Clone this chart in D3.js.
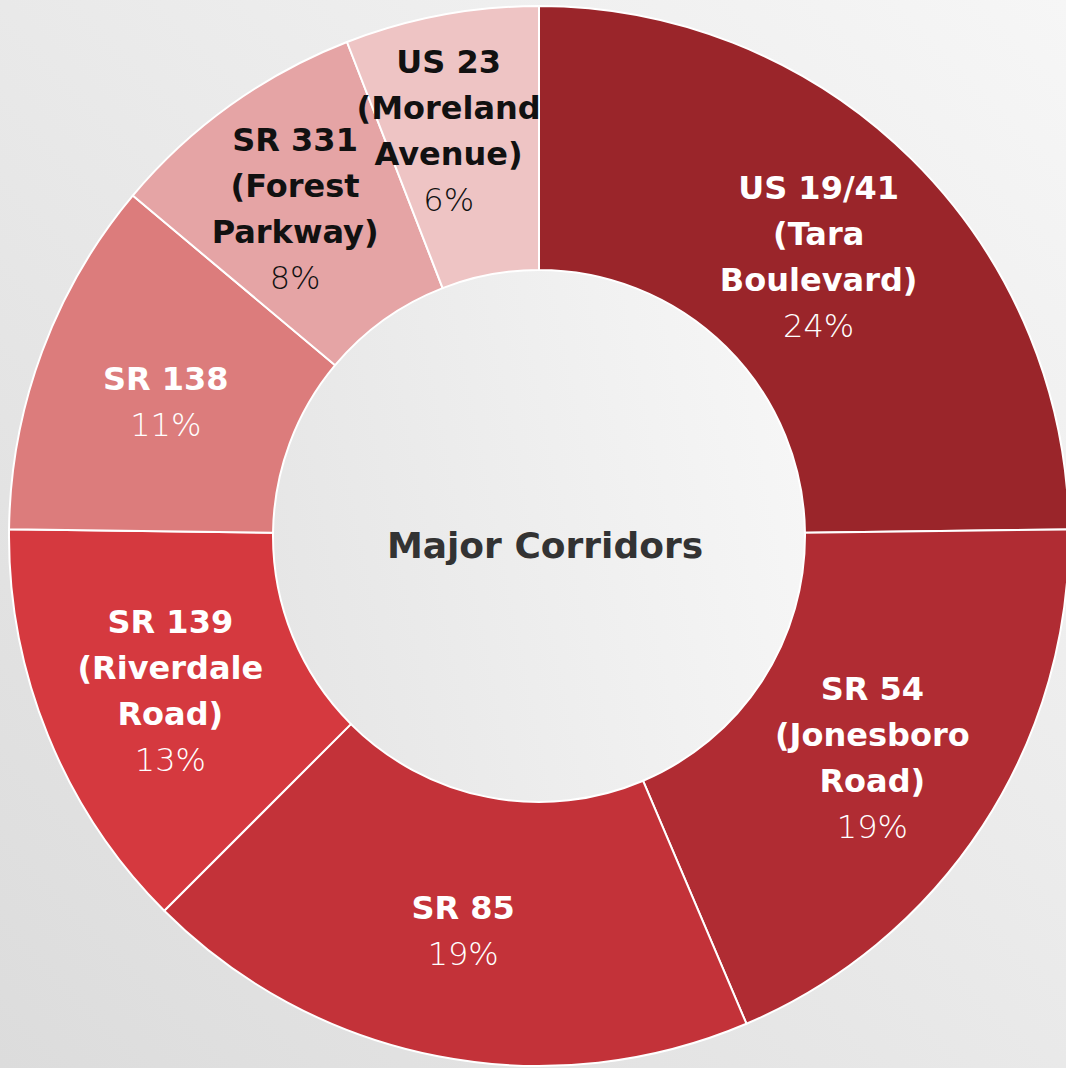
<!DOCTYPE html>
<html>
<head>
<meta charset="utf-8">
<script src="https://cdn.jsdelivr.net/npm/d3@7"></script>
<style>
  html, body { margin: 0; padding: 0; overflow: hidden; }
  svg { display: block; }
</style>
</head>
<body>
<svg id="chart" width="1066" height="1068"></svg>
<script>
// ---- data ----
const categories = ["US 19/41", "SR 54", "SR 85", "SR 139", "SR 138", "SR 331", "US 23"];
const nameLines = [
  ["US 19/41", "(Tara", "Boulevard)"],
  ["SR 54", "(Jonesboro", "Road)"],
  ["SR 85"],
  ["SR 139", "(Riverdale", "Road)"],
  ["SR 138"],
  ["SR 331", "(Forest", "Parkway)"],
  ["US 23", "(Moreland", "Avenue)"]
];
const shares = [24.8, 18.8, 18.9, 12.7, 10.9, 8.0, 5.9];
const percentLabels = ["24%", "19%", "19%", "13%", "11%", "8%", "6%"];
const colors = ["#9A252A", "#B02C33", "#C33239", "#D5393F", "#DC7C7C", "#E5A4A5", "#EEC4C4"];
const textColors = ["#ffffff", "#ffffff", "#ffffff", "#ffffff", "#ffffff", "#111111", "#111111"];
const centerTitle = "Major Corridors";

// ---- layout ----
const W = 1066, H = 1068;
const cx = 539, cy = 536;
const outerR = 530, innerR = 266;
// label nudges (layout only), by slice index
const labelNudge = { 5: [-12, -8], 6: [-17, -18] };

const svg = d3.select("#chart");
const defs = svg.append("defs");

const bg = defs.append("linearGradient").attr("id", "bg")
  .attr("x1", "0").attr("y1", "1").attr("x2", "1").attr("y2", "0");
bg.append("stop").attr("offset", "0").attr("stop-color", "#dcdcdc");
bg.append("stop").attr("offset", "1").attr("stop-color", "#f6f6f6");

const hole = defs.append("linearGradient").attr("id", "hole")
  .attr("x1", "0").attr("y1", "0.6").attr("x2", "1").attr("y2", "0.4");
hole.append("stop").attr("offset", "0").attr("stop-color", "#e6e6e6");
hole.append("stop").attr("offset", "1").attr("stop-color", "#f6f6f6");

svg.append("rect").attr("width", W).attr("height", H).attr("fill", "url(#bg)");

const g = svg.append("g").attr("transform", `translate(${cx},${cy})`);

const data = categories.map((c, i) => ({
  name: c, lines: nameLines[i], value: shares[i], pct: percentLabels[i],
  color: colors[i], textColor: textColors[i], idx: i
}));

const pie = d3.pie().value(d => d.value).sort(null);
const arc = d3.arc().innerRadius(innerR).outerRadius(outerR);
const arcs = pie(data);

g.append("circle").attr("r", innerR).attr("fill", "url(#hole)");

g.selectAll("path.slice").data(arcs).join("path")
  .attr("class", "slice")
  .attr("d", arc)
  .attr("fill", d => d.data.color)
  .attr("stroke", "#ffffff")
  .attr("stroke-width", 2)
  .attr("stroke-linejoin", "round");

const lineH = 46;
const labels = g.selectAll("g.lbl").data(arcs).join("g")
  .attr("class", "lbl")
  .attr("transform", d => {
    const [x, y] = arc.centroid(d);
    const n = labelNudge[d.data.idx] || [0, 0];
    return `translate(${x + n[0]},${y + 4 + n[1]})`;
  });

labels.each(function(d) {
  const sel = d3.select(this);
  const lines = d.data.lines.concat([d.data.pct]);
  const n = lines.length;
  lines.forEach((t, i) => {
    const isPct = i === n - 1;
    sel.append("text")
      .attr("x", 0)
      .attr("y", (i - (n - 1) / 2) * lineH)
      .attr("dy", "0.36em")
      .attr("text-anchor", "middle")
      .attr("fill", d.data.textColor)
      .attr("font-family", "'DejaVu Sans', sans-serif")
      .attr("font-weight", isPct ? 200 : 700)
      .attr("font-size", isPct ? 32 : 32)
      .text(t);
  });
});

svg.append("text")
  .attr("x", 545).attr("y", 545)
  .attr("dy", "0.36em")
  .attr("text-anchor", "middle")
  .attr("fill", "#333333")
  .attr("font-family", "'DejaVu Sans', sans-serif")
  .attr("font-weight", 700)
  .attr("font-size", 36)
  .text(centerTitle);
</script>
</body>
</html>
